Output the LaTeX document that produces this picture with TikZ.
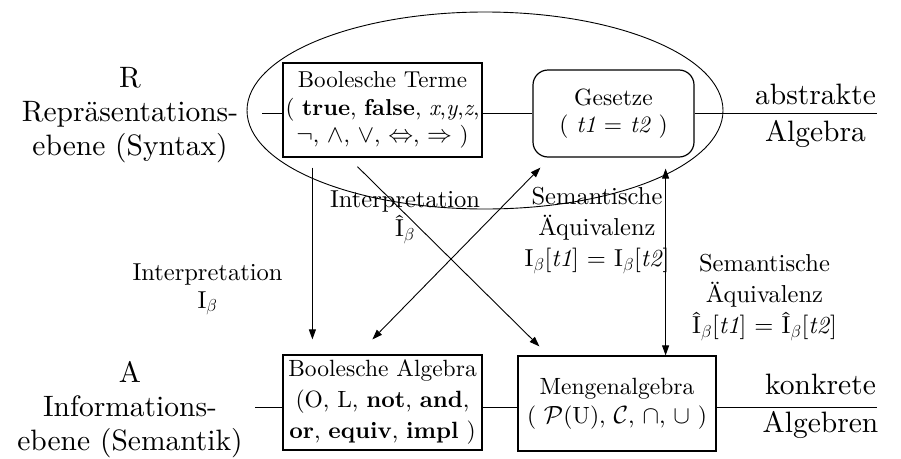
\documentclass[tikz,border=0pt]{standalone}
\usepackage{fontspec}
\setmainfont{lmroman10}[Extension=.otf, UprightFont=*-regular, BoldFont=*-bold, ItalicFont=*-italic, BoldItalicFont=*-bolditalic]
\usetikzlibrary{arrows.meta,shapes.geometric}
\newcommand{\bsub}{$_{\beta}$}
\begin{document}
\begin{tikzpicture}[x=1pt,y=-1pt,
  box/.style={draw, line width=1.2pt, inner sep=0pt, align=center, font=\fontsize{23.5}{27.5}\selectfont},
  lbl/.style={align=center, inner sep=0pt},
  conn/.style={line width=0.9pt},
  arr/.style={line width=0.9pt, -{Triangle[length=10pt,width=7pt]}},
  darr/.style={line width=0.9pt, {Triangle[length=10pt,width=7pt]}-{Triangle[length=10pt,width=7pt]}}]

\useasboundingbox (0,0) rectangle (901,458);

% ellipse around syntax level
\node[draw, ellipse, line width=0.9pt, minimum width=476pt, minimum height=197pt, inner sep=0pt] (grp) at (485,110.5) {};

% boxes
\node[box, minimum width=199pt, minimum height=94pt, font=\fontsize{23}{27.5}\selectfont] (terme) at (382.5,110)
  {Boolesche Terme\\( \textbf{true}, \textbf{false}, \textit{x},\textit{y},\textit{z},\\$\neg$, $\wedge$, $\vee$, $\Leftrightarrow$, $\Rightarrow$ )};
\node[box, rounded corners=15pt, minimum width=161pt, minimum height=87pt, font=\fontsize{23.5}{27}\selectfont] (ges) at (613.5,113.5)
  {Gesetze\\( \textit{t1} = \textit{t2} )};
\node[box, minimum width=199pt, minimum height=95pt, font=\fontsize{23.5}{31}\selectfont] (balg) at (382.5,402.5)
  {Boolesche Algebra\\(O, L, \textbf{not}, \textbf{and},\\\textbf{or}, \textbf{equiv}, \textbf{impl} )};
\node[box, minimum width=198pt, minimum height=95pt, font=\fontsize{23.5}{29}\selectfont] (meng) at (617,403.5)
  {Mengenalgebra\\( $\mathcal{P}$(U), $\mathcal{C}$, $\cap$, $\cup$ )};

% horizontal level lines
\coordinate (lt) at (262,113);
\coordinate (rt) at (877,113);
\coordinate (lb) at (255,407);
\coordinate (rb) at (877,407);
\draw[conn] (lt) -- (lt -| terme.west);
\draw[conn] (terme.east |- lt) -- (ges.west |- lt);
\draw[conn] (ges.east |- rt) -- (rt);
\draw[conn] (lb) -- (lb -| balg.west);
\draw[conn] (balg.east |- lb) -- (meng.west |- lb);
\draw[conn] (meng.east |- rb) -- (rb);

% side labels
\node[lbl, font=\fontsize{29.5}{34}\selectfont] (rep) at (130,114.8) {R\\Repräsentations-\\ebene (Syntax)};
\node[lbl, font=\fontsize{29.5}{34}\selectfont] (inf) at (130,409.5) {A\\Informations-\\ebene (Semantik)};
\node[lbl, font=\fontsize{29.5}{36.7}\selectfont] (abs) at (815.5,116) {abstrakte\\Algebra};
\node[lbl, font=\fontsize{29.5}{37.7}\selectfont] (konk) at (820.5,406.5) {konkrete\\Algebren};

% arrow labels
\node[lbl, font=\fontsize{24.5}{28}\selectfont] (i1) at (207.5,289.2) {Interpretation\\I\bsub};
\node[lbl, font=\fontsize{24.5}{29.4}\selectfont] (i2) at (405,217.2) {Interpretation\\Î\bsub};
\node[lbl, font=\fontsize{24.5}{31.2}\selectfont] (s1) at (597,230.5) {Semantische\\Äquivalenz\\I\bsub[\textit{t1}] = I\bsub[\textit{t2}]};
\node[lbl, font=\fontsize{24.5}{31.2}\selectfont] (s2) at (764.5,297.3) {Semantische\\Äquivalenz\\Î\bsub[\textit{t1}] = Î\bsub[\textit{t2}]};

% arrows
\draw[arr] ([xshift=30pt,yshift=-10pt]terme.south west) -- ([xshift=30pt,yshift=15pt]balg.north west);
\draw[arr] ([xshift=75pt,yshift=-9pt]terme.south west) -- ([xshift=22pt,yshift=9pt]meng.north west);
\draw[darr] ([xshift=90pt,yshift=15pt]balg.north west) -- ([xshift=8pt,yshift=-10pt]ges.south west);
\draw[darr] ([xshift=-29pt,yshift=-11pt]ges.south east) -- ([xshift=-29pt]ges.south east |- meng.north);
\end{tikzpicture}
\end{document}
